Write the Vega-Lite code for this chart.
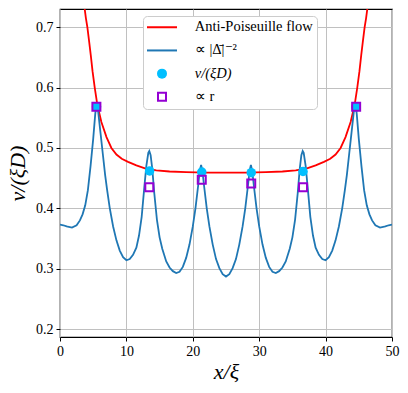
{
  "$schema": "https://vega.github.io/schema/vega-lite/v6.json",
  "width": 332,
  "height": 328,
  "autosize": "none",
  "padding": {"left": 60, "top": 9, "right": 16, "bottom": 56},
  "background": "white",
  "config": {
    "view": {"stroke": "black", "strokeWidth": 1.2},
    "axis": {
      "grid": true, "gridColor": "#c0c0c0", "gridWidth": 1,
      "domain": false, "tickColor": "black", "tickSize": 4, "tickWidth": 1,
      "labelFont": "Liberation Serif", "labelFontSize": 14, "labelColor": "black", "labelPadding": 3,
      "titleFont": "Liberation Serif", "titleFontSize": 22, "titleFontStyle": "italic",
      "titleFontWeight": "normal", "titleColor": "black"
    },
    "legend": {
      "labelFont": "Liberation Serif", "labelFontSize": 14.5, "labelColor": "black",
      "symbolSize": 100, "symbolStrokeWidth": 2
    }
  },
  "datasets": {
    "red": [
      {"x": 3.6, "y": 0.74}, {"x": 3.9, "y": 0.715}, {"x": 4.12, "y": 0.70}, {"x": 4.4, "y": 0.675},
      {"x": 4.63, "y": 0.654}, {"x": 4.9, "y": 0.627}, {"x": 5.23, "y": 0.600}, {"x": 5.63, "y": 0.571},
      {"x": 6.23, "y": 0.543}, {"x": 7.0, "y": 0.518}, {"x": 7.74, "y": 0.500}, {"x": 8.5, "y": 0.489},
      {"x": 9.3, "y": 0.482}, {"x": 10.25, "y": 0.477}, {"x": 11.5, "y": 0.471}, {"x": 12.8, "y": 0.466},
      {"x": 14.5, "y": 0.463}, {"x": 16.5, "y": 0.461}, {"x": 19, "y": 0.460}, {"x": 22, "y": 0.459},
      {"x": 25, "y": 0.459}, {"x": 28, "y": 0.459}, {"x": 31, "y": 0.460}, {"x": 33.5, "y": 0.461},
      {"x": 35.5, "y": 0.463}, {"x": 37.2, "y": 0.466}, {"x": 38.5, "y": 0.471}, {"x": 39.75, "y": 0.477},
      {"x": 40.7, "y": 0.482}, {"x": 41.5, "y": 0.489}, {"x": 42.26, "y": 0.500}, {"x": 43.0, "y": 0.518},
      {"x": 43.77, "y": 0.543}, {"x": 44.37, "y": 0.571}, {"x": 44.77, "y": 0.600}, {"x": 45.1, "y": 0.627},
      {"x": 45.37, "y": 0.654}, {"x": 45.6, "y": 0.675}, {"x": 45.88, "y": 0.70}, {"x": 46.1, "y": 0.715},
      {"x": 46.4, "y": 0.74}
    ],
    "blue": [
      {"x": 0, "y": 0.373}, {"x": 0.5, "y": 0.372}, {"x": 1.0, "y": 0.370}, {"x": 1.8, "y": 0.368},
      {"x": 2.5, "y": 0.372}, {"x": 3.0, "y": 0.380}, {"x": 3.4, "y": 0.390}, {"x": 3.8, "y": 0.405},
      {"x": 4.2, "y": 0.430}, {"x": 4.6, "y": 0.470}, {"x": 5.0, "y": 0.515}, {"x": 5.3, "y": 0.555},
      {"x": 5.5, "y": 0.575}, {"x": 5.75, "y": 0.560}, {"x": 6.1, "y": 0.525}, {"x": 6.5, "y": 0.485},
      {"x": 6.8, "y": 0.455}, {"x": 7.1, "y": 0.430}, {"x": 7.5, "y": 0.400}, {"x": 8.0, "y": 0.370},
      {"x": 8.5, "y": 0.347}, {"x": 9.0, "y": 0.330}, {"x": 9.5, "y": 0.319}, {"x": 10.0, "y": 0.314},
      {"x": 10.5, "y": 0.316}, {"x": 11.0, "y": 0.323}, {"x": 11.5, "y": 0.335}, {"x": 11.9, "y": 0.355},
      {"x": 12.3, "y": 0.386}, {"x": 12.7, "y": 0.435}, {"x": 13.0, "y": 0.470}, {"x": 13.3, "y": 0.492},
      {"x": 13.45, "y": 0.495}, {"x": 13.65, "y": 0.488}, {"x": 13.9, "y": 0.465}, {"x": 14.2, "y": 0.425},
      {"x": 14.6, "y": 0.381}, {"x": 15.0, "y": 0.352}, {"x": 15.4, "y": 0.333}, {"x": 16.0, "y": 0.312},
      {"x": 16.5, "y": 0.302}, {"x": 17.0, "y": 0.296}, {"x": 17.5, "y": 0.293}, {"x": 18.0, "y": 0.295},
      {"x": 18.5, "y": 0.303}, {"x": 19.0, "y": 0.318}, {"x": 19.5, "y": 0.340}, {"x": 20.0, "y": 0.370},
      {"x": 20.4, "y": 0.400}, {"x": 20.8, "y": 0.437}, {"x": 21.05, "y": 0.462}, {"x": 21.25, "y": 0.472},
      {"x": 21.45, "y": 0.462}, {"x": 21.7, "y": 0.437}, {"x": 22.1, "y": 0.400}, {"x": 22.5, "y": 0.370},
      {"x": 23.0, "y": 0.340}, {"x": 23.5, "y": 0.316}, {"x": 24.0, "y": 0.301}, {"x": 24.5, "y": 0.291},
      {"x": 25.0, "y": 0.287}, {"x": 25.5, "y": 0.291}, {"x": 26.0, "y": 0.301}, {"x": 26.5, "y": 0.316},
      {"x": 27.0, "y": 0.340}, {"x": 27.5, "y": 0.370}, {"x": 27.9, "y": 0.400}, {"x": 28.3, "y": 0.437},
      {"x": 28.55, "y": 0.462}, {"x": 28.75, "y": 0.472}, {"x": 28.95, "y": 0.462}, {"x": 29.2, "y": 0.437},
      {"x": 29.6, "y": 0.400}, {"x": 30.0, "y": 0.370}, {"x": 30.5, "y": 0.340}, {"x": 31.0, "y": 0.318},
      {"x": 31.5, "y": 0.303}, {"x": 32.0, "y": 0.295}, {"x": 32.5, "y": 0.293}, {"x": 33.0, "y": 0.296},
      {"x": 33.5, "y": 0.302}, {"x": 34.0, "y": 0.312}, {"x": 34.6, "y": 0.333}, {"x": 35.0, "y": 0.352},
      {"x": 35.4, "y": 0.381}, {"x": 35.8, "y": 0.425}, {"x": 36.1, "y": 0.465}, {"x": 36.35, "y": 0.488},
      {"x": 36.55, "y": 0.495}, {"x": 36.7, "y": 0.492}, {"x": 37.0, "y": 0.470}, {"x": 37.3, "y": 0.435},
      {"x": 37.7, "y": 0.386}, {"x": 38.1, "y": 0.355}, {"x": 38.5, "y": 0.335}, {"x": 39.0, "y": 0.323},
      {"x": 39.5, "y": 0.316}, {"x": 40.0, "y": 0.314}, {"x": 40.5, "y": 0.319}, {"x": 41.0, "y": 0.330},
      {"x": 41.5, "y": 0.347}, {"x": 42.0, "y": 0.370}, {"x": 42.5, "y": 0.400}, {"x": 42.9, "y": 0.430},
      {"x": 43.2, "y": 0.455}, {"x": 43.5, "y": 0.485}, {"x": 43.9, "y": 0.525}, {"x": 44.25, "y": 0.560},
      {"x": 44.5, "y": 0.575}, {"x": 44.7, "y": 0.555}, {"x": 45.0, "y": 0.515}, {"x": 45.4, "y": 0.470},
      {"x": 45.8, "y": 0.430}, {"x": 46.2, "y": 0.405}, {"x": 46.6, "y": 0.390}, {"x": 47.0, "y": 0.380},
      {"x": 47.5, "y": 0.372}, {"x": 48.2, "y": 0.368}, {"x": 49.0, "y": 0.370}, {"x": 49.5, "y": 0.372},
      {"x": 50, "y": 0.373}
    ],
    "dots": [
      {"x": 5.5, "y": 0.568}, {"x": 13.5, "y": 0.462}, {"x": 21.35, "y": 0.460},
      {"x": 28.8, "y": 0.459}, {"x": 36.6, "y": 0.461}, {"x": 44.55, "y": 0.568}
    ],
    "squares": [
      {"x": 5.48, "y": 0.568}, {"x": 13.45, "y": 0.435}, {"x": 21.35, "y": 0.4475},
      {"x": 28.8, "y": 0.441}, {"x": 36.6, "y": 0.435}, {"x": 44.6, "y": 0.568}
    ]
  },
  "encoding": {
    "x": {
      "field": "x", "type": "quantitative",
      "scale": {"domain": [0, 50], "nice": false, "zero": false},
      "axis": {"values": [0, 10, 20, 30, 40, 50], "format": "d", "title": "x/ξ", "titlePadding": 3, "labelFlush": false}
    },
    "y": {
      "field": "y", "type": "quantitative",
      "scale": {"domain": [0.187, 0.73], "nice": false, "zero": false},
      "axis": {"values": [0.2, 0.3, 0.4, 0.5, 0.6, 0.7], "format": ".1f", "title": "v/(ξD)", "titlePadding": 6}
    }
  },
  "layer": [
    {
      "data": {"name": "red"},
      "mark": {"type": "line", "strokeWidth": 1.8, "clip": true},
      "encoding": {
        "color": {
          "datum": "Anti-Poiseuille flow",
          "scale": {
            "domain": ["Anti-Poiseuille flow", "∝ |Δ̄|⁻²", "v/(ξD)", "∝ r"],
            "range": ["#ff0000", "#1f77b4", "#00bfff", "#9400d3"]
          },
          "legend": {
            "title": null,
            "orient": "none",
            "legendX": 83,
            "legendY": 7,
            "padding": 4,
            "rowPadding": 8.2,
            "symbolOffset": 7.75,
            "labelOffset": 25.5,
            "labelFontSize": 14.5,
            "labelFont": "Liberation Serif",
            "fillColor": "white",
            "strokeColor": "#cccccc",
            "cornerRadius": 4,
            "labelLimit": 300,
            "encode": {
              "symbols": {
                "update": {
                  "shape": {"signal": "datum.index < 2 ? 'M-3,0L3,0' : (datum.index == 2 ? 'circle' : 'M-0.8,-0.8H0.8V0.8H-0.8Z')"},
                  "fill": {"signal": "datum.index == 2 ? '#00bfff' : 'white'"},
                  "fillOpacity": {"signal": "datum.index == 2 ? 1 : 0"},
                  "stroke": {"signal": "datum.index == 0 ? '#ff0000' : (datum.index == 1 ? '#1f77b4' : (datum.index == 2 ? '#00bfff' : '#9400d3'))"},
                  "strokeOpacity": {"signal": "datum.index == 2 ? 0 : 1"},
                  "strokeWidth": {"value": 2},
                  "opacity": {"value": 1}
                }
              },
              "labels": {
                "update": {
                  "fontStyle": {"signal": "datum.index == 2 ? 'italic' : 'normal'"}
                }
              }
            }
          }
        }
      }
    },
    {
      "data": {"name": "blue"},
      "mark": {"type": "line", "strokeWidth": 1.8, "clip": true},
      "encoding": {"color": {"datum": "∝ |Δ̄|⁻²"}}
    },
    {
      "data": {"name": "dots"},
      "mark": {"type": "point", "shape": "circle", "filled": true, "size": 90, "opacity": 1},
      "encoding": {"color": {"datum": "v/(ξD)"}}
    },
    {
      "data": {"name": "squares"},
      "mark": {"type": "point", "shape": "square", "filled": false, "size": 64, "strokeWidth": 2, "opacity": 1},
      "encoding": {"color": {"datum": "∝ r"}}
    }
  ]
}
